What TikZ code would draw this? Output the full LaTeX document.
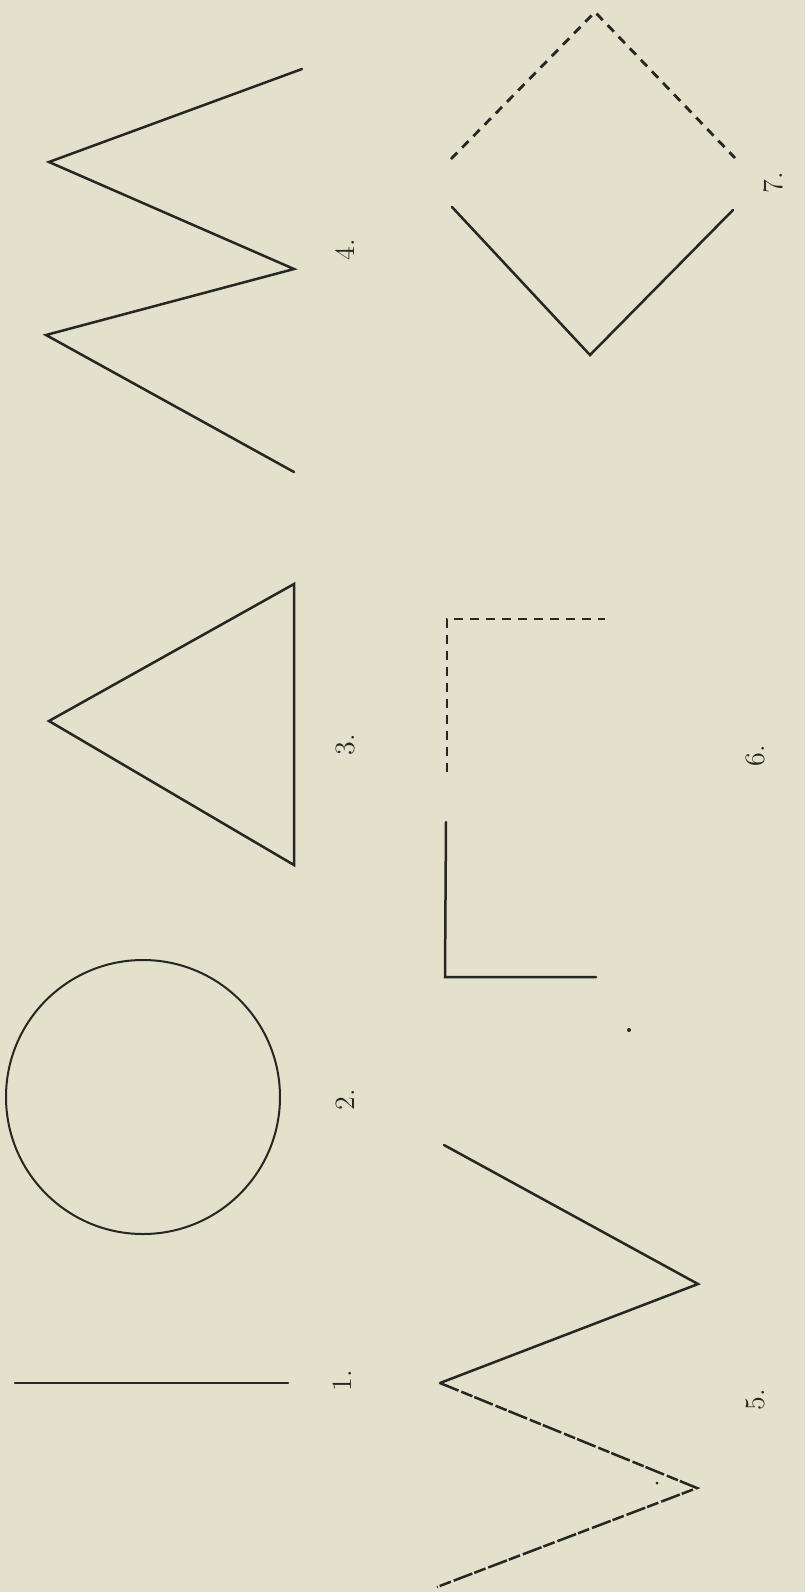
\documentclass[tikz,border=0pt]{standalone}
\usetikzlibrary{positioning}
\definecolor{paper}{RGB}{227,224,204}
\definecolor{ink}{RGB}{38,38,34}
\begin{document}
\begin{tikzpicture}[
  x=0.5pt,y=-0.5pt,
  stroke/.style={draw=ink,line width=1.25pt,line cap=round,line join=miter},
  thinstroke/.style={stroke,line width=1.0pt},
  broken/.style={stroke,line cap=butt,dash pattern=on 10pt off 1.5pt on 6pt off 1pt},
  dashline/.style={stroke,line width=1.4pt,line cap=butt,dash pattern=on 4.5pt off 3.5pt},
  numlbl/.style={text=ink,font=\fontsize{14}{16}\selectfont,rotate=90,inner sep=0pt},
]

% ---- the page ----
\fill[paper] (0,0) rectangle (805,1592);
\useasboundingbox (0,0) rectangle (805,1592);

% ---- top row: 1 to 4 ----
% 1: a plain stroke
\draw[stroke] (15,1383) -- (288,1383);
\node[numlbl] (one) at (342,1381) {1.};

% 2: the circle
\draw[thinstroke] (143,1097) circle[radius=137];
\node[numlbl] (two) at (345,1100) {2.};

% 3: the triangle
\draw[stroke] (49,721) -- (294,584) -- (294,865) -- cycle;
\node[numlbl] (three) at (345,745) {3.};

% 4: the zigzag
\draw[stroke] (294,472) -- (46,335) -- (294,269) -- (49,162) -- (302,69);
\node[numlbl] (four) at (345,250) {4.};

% ---- bottom row: 5 to 7 ----
% 5: zigzag, lower half broken
\draw[stroke] (444,1145) -- (698,1284) -- (440,1383);
\draw[broken] (440,1383) -- (697,1488) -- (437,1587);
\fill[ink] (657,1483) circle[radius=1.5];
\node[numlbl] (five) at (755,1400) {5.};

% 6: a corner, one half dashed
\draw[stroke] (446,822) -- (445,977) -- (596,977);
\draw[dashline] (447,772) -- (447,619) -- (605,619);
\node[numlbl] (six) at (755,756) {6.};

% 7: the square on its corner, top half dashed
\draw[stroke] (452,207) -- (590,355) -- (733,210);
\draw[dashline] (451,159) -- (595,12) -- (735,158);
\node[numlbl] (seven) at (773,183) {7.};

% speck on the sheet
\fill[ink] (629,1030) circle[radius=2];

\end{tikzpicture}
\end{document}
